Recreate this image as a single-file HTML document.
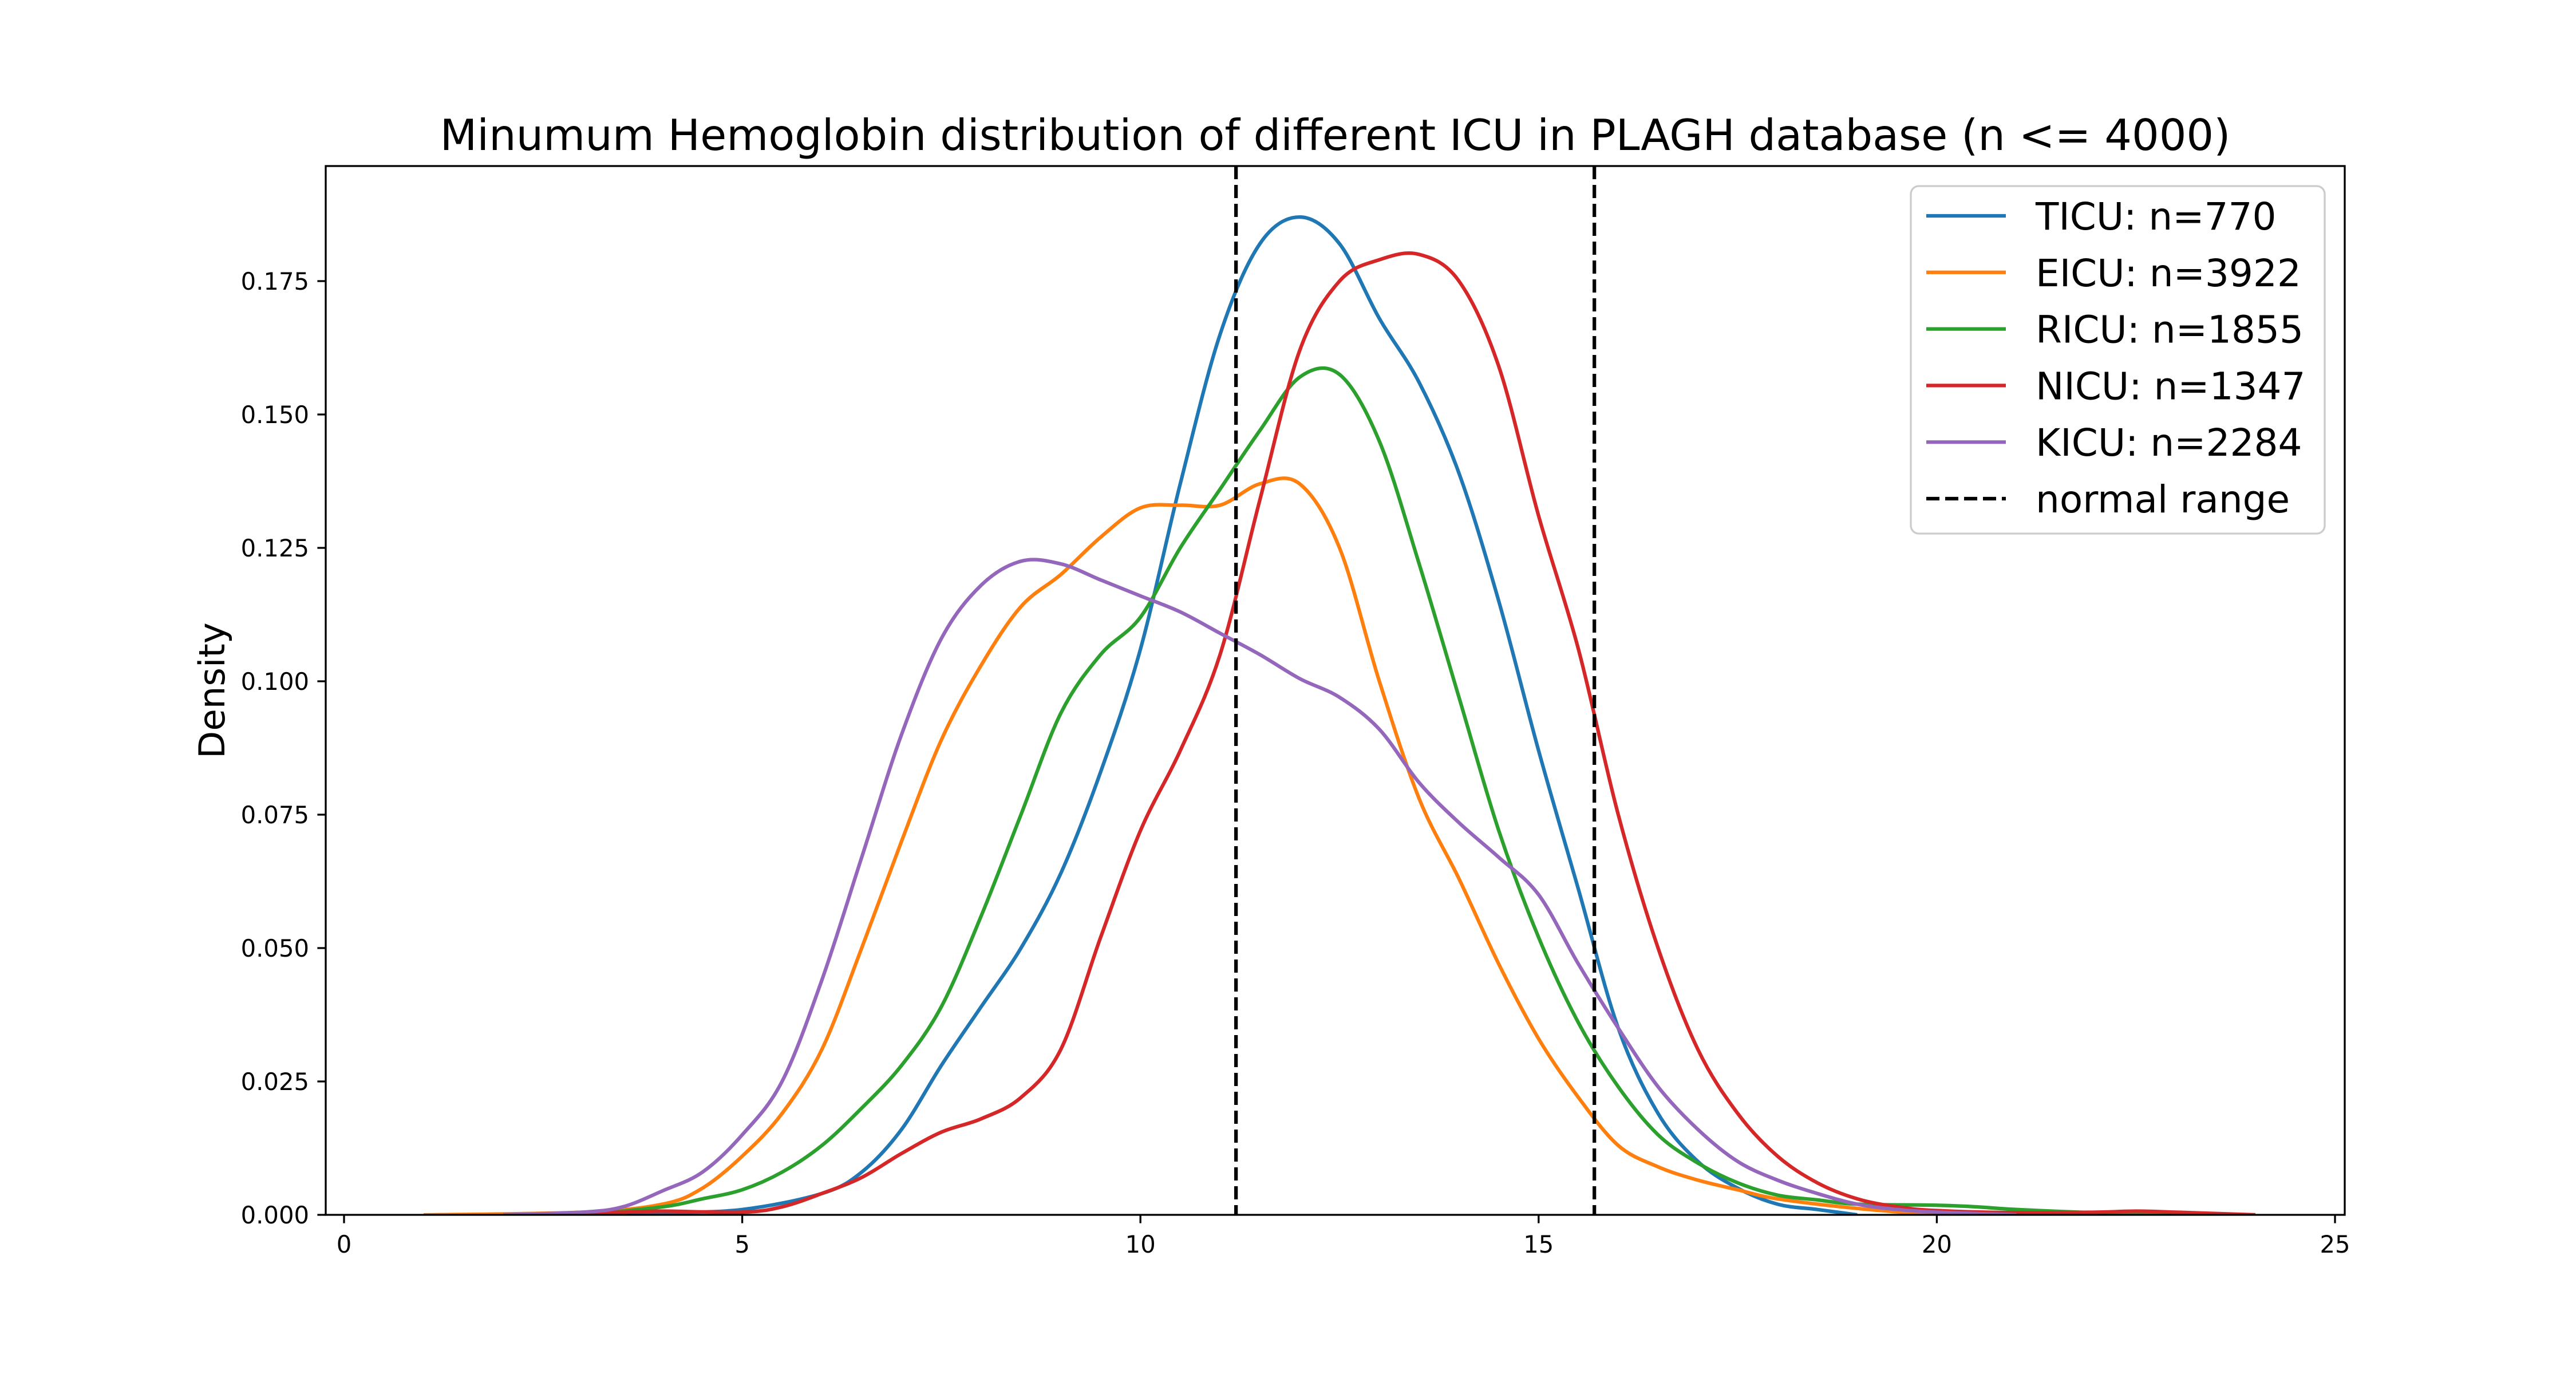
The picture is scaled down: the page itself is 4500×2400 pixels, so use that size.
<!DOCTYPE html>
<html><head><meta charset="utf-8"><style>
html,body{margin:0;padding:0;background:#fff;}
svg{display:block;font-family:"DejaVu Sans","Liberation Sans",sans-serif;}
</style></head><body>
<svg id="chart" width="4500" height="2400" viewBox="0 0 4500 2400" xmlns="http://www.w3.org/2000/svg">
<rect width="4500" height="2400" fill="#fff"/>
<g id="plot"></g>
</svg>
<script>
const xTicks=[0,5,10,15,20,25];
const yTicks=[0,0.025,0.05,0.075,0.1,0.125,0.15,0.175];
const yTickLabels=["0.000","0.025","0.050","0.075","0.100","0.125","0.150","0.175"];
const normalRange=[11.2,15.7];
const seriesNames=["TICU: n=770","EICU: n=3922","RICU: n=1855","NICU: n=1347","KICU: n=2284"];
const seriesColors=["#1f77b4","#ff7f0e","#2ca02c","#d62728","#9467bd"];
const ticuX=[3,4,5,6,6.5,7,7.5,8,8.5,9,9.5,10,10.5,11,11.5,12,12.5,13,13.5,14,14.5,15,15.5,16,16.5,17,17.5,18,18.5,19];
const ticuY=[0,0.0004,0.001,0.004,0.008,0.016,0.028,0.039,0.050,0.064,0.083,0.106,0.137,0.165,0.182,0.187,0.182,0.168,0.156,0.139,0.115,0.087,0.061,0.035,0.019,0.010,0.005,0.002,0.001,0];
const eicuX=[1,3,4,4.5,5,5.5,6,6.5,7,7.5,8,8.5,9,9.5,10,10.5,11,11.5,12,12.5,13,13.5,14,14.5,15,15.5,16,16.5,17,17.5,18,19,20];
const eicuY=[0,0.0005,0.002,0.005,0.011,0.019,0.031,0.050,0.070,0.089,0.103,0.114,0.120,0.127,0.1325,0.133,0.133,0.137,0.137,0.125,0.100,0.078,0.063,0.047,0.033,0.022,0.013,0.009,0.0065,0.0047,0.003,0.0012,0];
const ricuX=[3,4,4.5,5,5.5,6,6.5,7,7.5,8,8.5,9,9.5,10,10.5,11,11.5,12,12.5,13,13.5,14,14.5,15,15.5,16,16.5,17,17.5,18,18.5,19,20,20.5,21,22,23,24];
const ricuY=[0,0.0015,0.003,0.0047,0.008,0.013,0.020,0.028,0.039,0.056,0.075,0.094,0.105,0.112,0.125,0.136,0.147,0.157,0.1575,0.145,0.122,0.097,0.072,0.052,0.036,0.024,0.015,0.0097,0.006,0.0037,0.0028,0.002,0.0018,0.0015,0.001,0.0004,0.0001,0];
const nicuX=[2,3.5,4,5,5.5,6,6.5,7,7.5,8,8.5,9,9.5,10,10.5,11,11.5,12,12.5,13,13.5,14,14.5,15,15.5,16,16.5,17,17.5,18,18.5,19,19.5,20,21,22,22.5,23,24];
const nicuY=[0,0.0005,0.0007,0.0005,0.0015,0.004,0.007,0.0115,0.0155,0.018,0.022,0.031,0.052,0.072,0.087,0.105,0.134,0.162,0.175,0.179,0.180,0.175,0.159,0.131,0.106,0.075,0.050,0.031,0.019,0.011,0.006,0.003,0.0015,0.0008,0.0004,0.0005,0.0007,0.0005,0];
const kicuX=[2,3,3.5,4,4.5,5,5.5,6,6.5,7,7.5,8,8.5,9,9.5,10,10.5,11,11.5,12,12.5,13,13.5,14,14.5,15,15.5,16,16.5,17,17.5,18,18.5,19,19.5,20,21];
const kicuY=[0,0.0005,0.0015,0.0045,0.008,0.015,0.025,0.044,0.067,0.090,0.108,0.118,0.1225,0.122,0.119,0.116,0.113,0.109,0.105,0.1005,0.097,0.091,0.081,0.0735,0.067,0.060,0.047,0.035,0.024,0.016,0.010,0.0065,0.004,0.002,0.001,0.0005,0];
const seriesX=[ticuX,eicuX,ricuX,nicuX,kicuX];
const seriesY=[ticuY,eicuY,ricuY,nicuY,kicuY];
const seriesKeys=["ticu","eicu","ricu","nicu","kicu"];

const L=569,R=4096,T=290,B=2122;
const x0px=601,x25px=4079;
const sx=v=>x0px+(v/25)*(x25px-x0px);
const sy=v=>B-(v/0.175)*(B-491);
const NS="http://www.w3.org/2000/svg";
const g=document.getElementById('plot');
function mk(tag,attrs,parent){const e=document.createElementNS(NS,tag);for(const k in attrs)e.setAttribute(k,attrs[k]);(parent||g).appendChild(e);return e;}
function smooth(pts){let d=`M${pts[0][0]},${pts[0][1]}`;for(let i=0;i<pts.length-1;i++){const p0=pts[Math.max(0,i-1)],p1=pts[i],p2=pts[i+1],p3=pts[Math.min(pts.length-1,i+2)];const c1=[p1[0]+(p2[0]-p0[0])/6,p1[1]+(p2[1]-p0[1])/6],c2=[p2[0]-(p3[0]-p1[0])/6,p2[1]-(p3[1]-p1[1])/6];d+=` C${c1[0]},${c1[1]} ${c2[0]},${c2[1]} ${p2[0]},${p2[1]}`;}return d;}

const clip=mk('clipPath',{id:'clipAx'});mk('rect',{x:L,y:T,width:R-L,height:B-T},clip);

seriesX.forEach((xs,i)=>{
  const pts=xs.map((x,j)=>[sx(x),sy(seriesY[i][j])]);
  const p=mk('path',{d:smooth(pts),fill:'none',stroke:seriesColors[i],'stroke-width':6.25,'stroke-linejoin':'round','clip-path':'url(#clipAx)'});
  
  
});
normalRange.forEach((v,i)=>{
  const l=mk('line',{x1:sx(v),x2:sx(v),y1:T,y2:B,stroke:'#000','stroke-width':6.25,'stroke-dasharray':'23 10'});
  
  
});
const fr=mk('rect',{x:L,y:T,width:R-L,height:B-T,fill:'none',stroke:'#000','stroke-width':3.3});


xTicks.forEach(v=>{
  const x=sx(v);
  mk('line',{x1:x,x2:x,y1:B,y2:B+14.6,stroke:'#000','stroke-width':3.3});
  const t=mk('text',{x:x,y:B+66,'font-size':41.7,'text-anchor':'middle',fill:'#000'});
  t.textContent=v;
  
  
});
yTicks.forEach((v,i)=>{
  const y=sy(v);
  mk('line',{x1:L-14.6,x2:L,y1:y,y2:y,stroke:'#000','stroke-width':3.3});
  const t=mk('text',{x:L-29,y:y+15,'font-size':41.7,'text-anchor':'end',fill:'#000'});
  t.textContent=yTickLabels[i];
  
  
});
const yl=mk('text',{x:0,y:0,'font-size':62.5,'text-anchor':'middle',transform:`translate(392,${(T+B)/2}) rotate(-90)`,fill:'#000'});
yl.textContent='Density';


const ti=mk('text',{x:(L+R)/2,y:262,'font-size':75,'text-anchor':'middle',fill:'#000'});
ti.textContent='Minumum Hemoglobin distribution of different ICU in PLAGH database (n <= 4000)';


const lg=mk('g',{});


mk('rect',{x:3338,y:325,width:723,height:607,rx:14,fill:'#fff','fill-opacity':0.8,stroke:'#cccccc','stroke-width':3.3},lg);
const labels=seriesNames.concat(['normal range']);
labels.forEach((s,i)=>{
  const cy=377+i*98.8;
  const isDash=i===5;
  const ln=mk('line',{x1:3365,x2:3504,y1:cy,y2:cy,stroke:isDash?'#000':seriesColors[i],'stroke-width':6.25,'stroke-dasharray':isDash?'23 10':'none'},lg);
  
  
  const t=mk('text',{x:3556,y:cy+24,'font-size':66,fill:'#000'},lg);
  t.textContent=s;
  
  
});
</script>
</body></html>
